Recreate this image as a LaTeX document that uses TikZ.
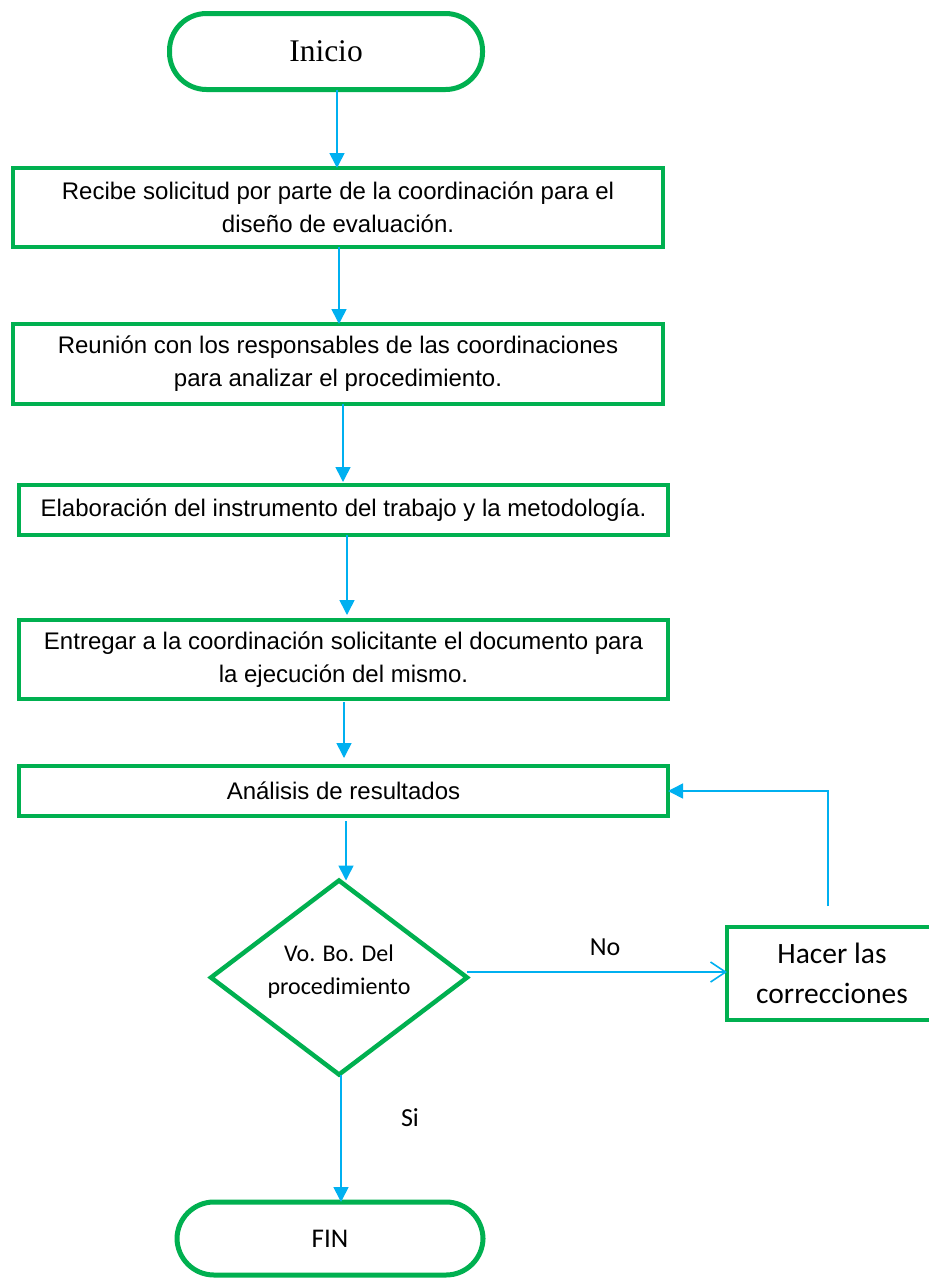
\documentclass[tikz,border=0pt]{standalone}
\usepackage{fontspec}
\setmainfont{Liberation Sans}
\newfontfamily\serifont{Liberation Serif}
\newfontfamily\calfont{Carlito}
\usetikzlibrary{shapes.geometric,arrows.meta}
\definecolor{gr}{HTML}{00B050}
\definecolor{bl}{HTML}{00B0F0}
\begin{document}
\begin{tikzpicture}[x=1pt,y=-1pt,
  box/.style={draw=gr,line width=4pt,rectangle,outer sep=0pt,inner sep=0pt,align=center,
    font=\fontsize{24}{33}\selectfont,text=black},
  term/.style={draw=gr,line width=5pt,rectangle,rounded corners=37pt,outer sep=0pt,inner sep=0pt,align=center},
  diam/.style={draw=gr,line width=4.5pt,diamond,aspect=1.32,outer sep=0pt,inner sep=0pt,
    minimum width=256pt,minimum height=194pt},
  arr/.style={draw=bl,line width=1.6pt,-{Triangle[length=15pt,width=15pt]}},
  openarr/.style={draw=bl,line width=1.6pt,-{Straight Barb[length=15pt,width=20pt,line width=1.6pt]}},
  lbl/.style={font=\calfont\fontsize{26}{30}\selectfont,inner sep=0pt}
]
\path[use as bounding box,fill=white] (0,0) rectangle (929,1278);

% nodes
\node[term,minimum width=313pt,minimum height=76pt,font=\serifont\fontsize{31.5}{36}\selectfont] (inicio) at (326,51.5) {Inicio};
\node[box,minimum width=650pt,minimum height=79pt] (b1) at (338,207.5)
  {Recibe solicitud por parte de la coordinación para el\\diseño de evaluación.};
\node[box,minimum width=650pt,minimum height=80pt] (b2) at (338,364)
  {Reunión con los responsables de las coordinaciones\\para analizar el procedimiento.};
\node[box,minimum width=649pt,minimum height=50pt] (b3) at (343.5,510)
  {Elaboración del instrumento del trabajo y la metodología.};
\node[box,minimum width=649pt,minimum height=79pt] (b4) at (343.5,659.5)
  {Entregar a la coordinación solicitante el documento para\\la ejecución del mismo.};
\node[box,minimum width=649pt,minimum height=50pt] (b5) at (343.5,791)
  {Análisis de resultados};
\node[diam,label={[align=center,font=\calfont\fontsize{24}{33}\selectfont,yshift=6pt]center:Vo. Bo. Del\\procedimiento}] (dia) at (339,977.5) {};
\node[box,minimum width=210pt,minimum height=93pt,font=\calfont\fontsize{29.5}{40}\selectfont] (hacer) at (832,973.5)
  {Hacer las\\correcciones};
\node[term,minimum width=306pt,minimum height=73pt,font=\calfont\fontsize{27}{32}\selectfont] (fin) at (330,1238.5) {FIN};

\node[lbl] (no) at (605,947) {No};
\node[lbl] (si) at (410,1118) {Si};

% helper coordinates
\coordinate (c1) at (337,0);
\coordinate (c2) at (339,0);
\coordinate (c3) at (343,0);
\coordinate (c4) at (347,0);
\coordinate (c5) at (344,0);
\coordinate (c6) at (346,0);
\coordinate (c7) at (341,0);
\coordinate (ny) at (0,972);
\coordinate (loopstart) at (828,906);

% connectors
\draw[arr] (inicio.south -| c1) -- (b1.north -| c1);
\draw[arr] (b1.south -| c2) -- (b2.north -| c2);
\draw[arr] (b2.south -| c3) -- ([yshift=3pt]b3.north -| c3);
\draw[arr] (b3.south -| c4) -- ([yshift=5pt]b4.north -| c4);
\draw[arr] ([yshift=-3pt]b4.south -| c5) -- ([yshift=8pt]b5.north -| c5);
\draw[arr] ([yshift=-5pt]b5.south -| c6) -- (dia.north -| c6);
\draw[openarr] (dia.east |- ny) -- (hacer.west |- ny);
\draw[arr] (loopstart) |- (b5.east);
\draw[arr] (dia.south -| c7) -- (fin.north -| c7);
\end{tikzpicture}
\end{document}
